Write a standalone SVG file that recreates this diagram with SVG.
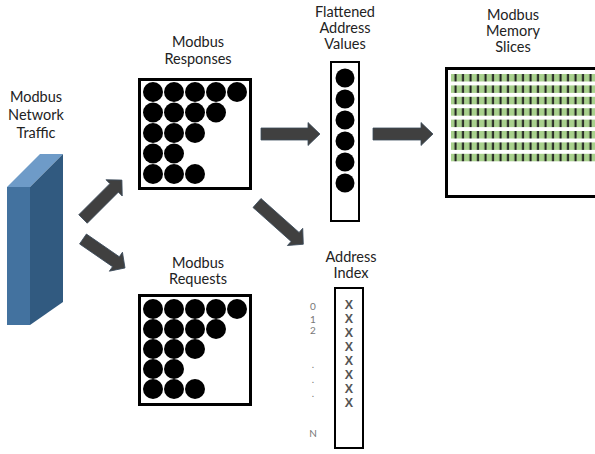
<svg xmlns="http://www.w3.org/2000/svg" width="595" height="454" viewBox="0 0 595 454">
<defs>
<style>
.lbl{font-family:Lato,"Open Sans",sans-serif;font-size:14.5px;fill:#222;text-anchor:middle}
.box{fill:#fff;stroke:#000}
.dot{fill:#000}
.arr{fill:#404040;stroke:#3b4b5c;stroke-width:0.8}
.xm{font-family:"Liberation Sans",Arial,sans-serif;font-size:12.5px;font-weight:bold;fill:#555;text-anchor:middle}
.idx{font-family:Lato,"Open Sans",sans-serif;font-size:10px;fill:#777;text-anchor:middle}
</style>
<pattern id="cells" patternUnits="userSpaceOnUse" x="451" y="0" width="7.5" height="20">
<rect width="7.5" height="20" fill="#a9d18e"/>
<rect x="3.5" width="2" height="20" fill="#1e1e1e"/>
</pattern>
</defs>

<g id="traffic">
<text class="lbl" x="36" y="102">Modbus</text>
<text class="lbl" x="36" y="120">Network</text>
<text class="lbl" x="36" y="138">Traffic</text>
<polygon points="7,187 30,187 63,154 40,154" fill="#6e9bc8"/>
<polygon points="30,187 63,154 63,302 30,325" fill="#315a80"/>
<rect x="7" y="187" width="23" height="138" fill="#43729f"/>
</g>

<g id="responses">
<text class="lbl" x="198" y="47">Modbus</text>
<text class="lbl" x="198" y="64">Responses</text>
<rect class="box" x="139.5" y="79.5" width="111" height="109" stroke-width="3"/>
<g class="dot">
<circle cx="153" cy="92" r="10"/><circle cx="174" cy="92" r="10"/><circle cx="195" cy="92" r="10"/><circle cx="216" cy="92" r="10"/><circle cx="237" cy="92" r="10"/>
<circle cx="153" cy="112.5" r="10"/><circle cx="174" cy="112.5" r="10"/><circle cx="195" cy="112.5" r="10"/><circle cx="216" cy="112.5" r="10"/>
<circle cx="153" cy="133" r="10"/><circle cx="174" cy="133" r="10"/><circle cx="195" cy="133" r="10"/>
<circle cx="153" cy="153.5" r="10"/><circle cx="174" cy="153.5" r="10"/>
<circle cx="153" cy="174" r="10"/><circle cx="174" cy="174" r="10"/><circle cx="195" cy="174" r="10"/>
</g>
</g>

<g id="requests">
<text class="lbl" x="198" y="268">Modbus</text>
<text class="lbl" x="198" y="284">Requests</text>
<rect class="box" x="139.5" y="295.5" width="111" height="109" stroke-width="3"/>
<g class="dot">
<circle cx="153" cy="309" r="10"/><circle cx="174" cy="309" r="10"/><circle cx="195" cy="309" r="10"/><circle cx="216" cy="309" r="10"/><circle cx="237" cy="309" r="10"/>
<circle cx="153" cy="329" r="10"/><circle cx="174" cy="329" r="10"/><circle cx="195" cy="329" r="10"/><circle cx="216" cy="329" r="10"/>
<circle cx="153" cy="349" r="10"/><circle cx="174" cy="349" r="10"/><circle cx="195" cy="349" r="10"/>
<circle cx="153" cy="369" r="10"/><circle cx="174" cy="369" r="10"/>
<circle cx="153" cy="389" r="10"/><circle cx="174" cy="389" r="10"/><circle cx="195" cy="389" r="10"/>
</g>
</g>

<g id="flattened">
<text class="lbl" x="345" y="17">Flattened</text>
<text class="lbl" x="345" y="33">Address</text>
<text class="lbl" x="345" y="49">Values</text>
<rect class="box" x="331" y="62" width="28" height="159" stroke-width="2"/>
<g class="dot">
<circle cx="345" cy="78" r="9.5"/><circle cx="345" cy="99" r="9.5"/><circle cx="345" cy="120" r="9.5"/><circle cx="345" cy="141" r="9.5"/><circle cx="345" cy="162" r="9.5"/><circle cx="345" cy="183" r="9.5"/>
</g>
</g>

<g id="memory">
<text class="lbl" x="513" y="20">Modbus</text>
<text class="lbl" x="513" y="36">Memory</text>
<text class="lbl" x="513" y="52">Slices</text>
<rect class="box" x="446.5" y="68.5" width="152" height="128" stroke-width="3"/>
<g fill="url(#cells)">
<rect x="451" y="74" width="146" height="7.5"/>
<rect x="451" y="85.4" width="146" height="7.5"/>
<rect x="451" y="96.8" width="146" height="7.5"/>
<rect x="451" y="108.2" width="146" height="7.5"/>
<rect x="451" y="119.6" width="146" height="7.5"/>
<rect x="451" y="131" width="146" height="7.5"/>
<rect x="451" y="142.4" width="146" height="7.5"/>
<rect x="451" y="153.8" width="146" height="7.5"/>
</g>
</g>

<g id="index">
<text class="lbl" x="351" y="262">Address</text>
<text class="lbl" x="351" y="278">Index</text>
<rect class="box" x="335" y="288" width="28" height="160" stroke-width="2"/>
<text class="xm" x="349" y="309">X</text>
<text class="xm" x="349" y="323">X</text>
<text class="xm" x="349" y="337">X</text>
<text class="xm" x="349" y="351">X</text>
<text class="xm" x="349" y="365">X</text>
<text class="xm" x="349" y="379">X</text>
<text class="xm" x="349" y="393">X</text>
<text class="xm" x="349" y="407">X</text>
<text class="idx" x="313" y="310">0</text>
<text class="idx" x="313" y="323">1</text>
<text class="idx" x="313" y="334">2</text>
<text class="idx" x="313" y="368">.</text>
<text class="idx" x="313" y="383">.</text>
<text class="idx" x="313" y="397">.</text>
<text class="idx" x="313" y="437">N</text>
</g>

<g id="connectors">
<polygon class="arr" transform="translate(83,219) rotate(-45)" points="0,-6 44,-6 44,-11.5 55,0 44,11.5 44,6 0,6"/>
<polygon class="arr" transform="translate(83,239) rotate(34.6)" points="0,-6 40,-6 40,-11.5 51,0 40,11.5 40,6 0,6"/>
<polygon class="arr" transform="translate(257,203) rotate(41.7)" points="0,-6 51,-6 51,-11.5 62,0 51,11.5 51,6 0,6"/>
<polygon class="arr" transform="translate(261,134)" points="0,-6 47,-6 47,-11.5 59,0 47,11.5 47,6 0,6"/>
<polygon class="arr" transform="translate(373,134)" points="0,-6 48,-6 48,-11.5 60,0 48,11.5 48,6 0,6"/>
</g>
</svg>
